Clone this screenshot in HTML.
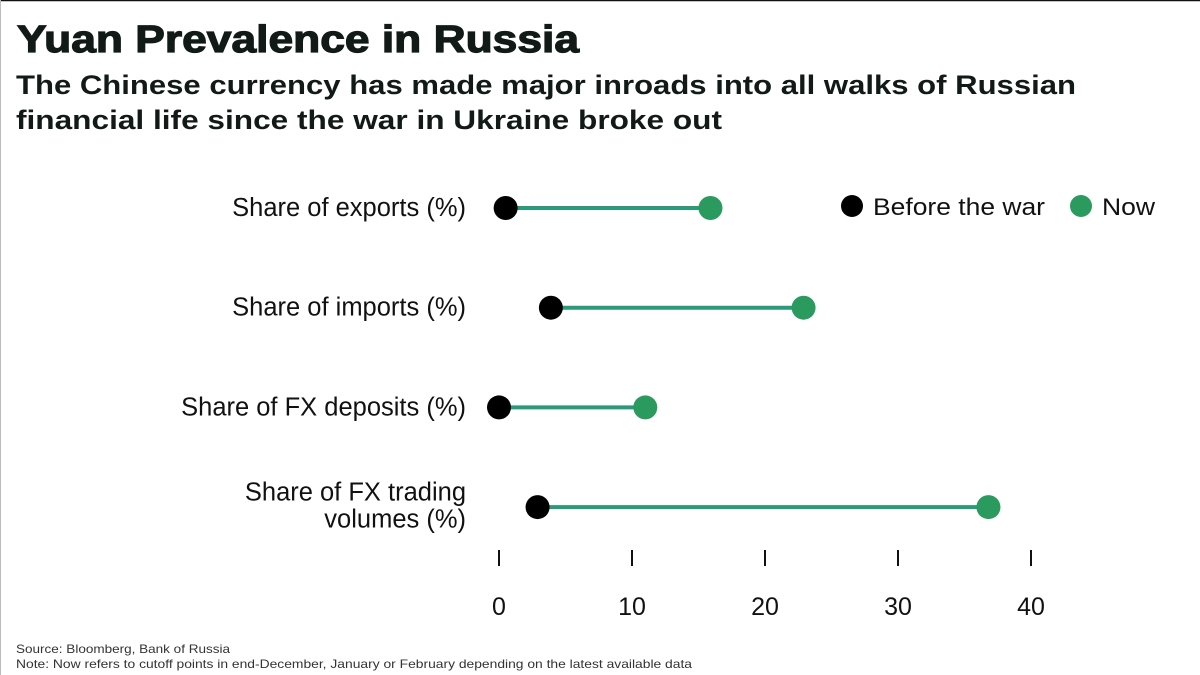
<!DOCTYPE html>
<html><head><meta charset="utf-8"><style>
html,body{margin:0;padding:0;background:#fff;}
svg{display:block;font-family:"Liberation Sans",sans-serif;}
</style></head><body>
<svg width="1200" height="675" viewBox="0 0 1200 675">
<rect x="0" y="0" width="1200" height="675" fill="#fff"/>
<line x1="0" y1="0.5" x2="1200" y2="0.5" stroke="#111" stroke-width="1.5"/>
<line x1="0.5" y1="0" x2="0.5" y2="675" stroke="#bbb" stroke-width="1"/>
<text x="17" y="52" font-size="38" font-weight="900" fill="#111a17" stroke="#111a17" stroke-width="1.2" textLength="562" lengthAdjust="spacingAndGlyphs">Yuan Prevalence in Russia</text>
<text x="16" y="94" font-size="27" font-weight="bold" fill="#111a17" textLength="1060" lengthAdjust="spacingAndGlyphs">The Chinese currency has made major inroads into all walks of Russian</text>
<text x="16" y="129" font-size="27" font-weight="bold" fill="#111a17" textLength="706" lengthAdjust="spacingAndGlyphs">financial life since the war in Ukraine broke out</text>
<g id="legend">
<circle cx="852" cy="206" r="11" fill="#000"/>
<text x="873" y="215" font-size="24" fill="#111" textLength="172" lengthAdjust="spacingAndGlyphs">Before the war</text>
<circle cx="1081" cy="206" r="11" fill="#2a9a5f"/>
<text x="1102" y="215" font-size="24" fill="#111" textLength="53" lengthAdjust="spacingAndGlyphs">Now</text>
</g>
<g id="plot"></g>
<text x="16" y="653" font-size="12" fill="#333" textLength="214" lengthAdjust="spacingAndGlyphs">Source: Bloomberg, Bank of Russia</text>
<text x="16" y="668" font-size="12" fill="#333" textLength="676" lengthAdjust="spacingAndGlyphs">Note: Now refers to cutoff points in end-December, January or February depending on the latest available data</text>
</svg>
<script>
const categories = [["Share of exports (%)"],["Share of imports (%)"],["Share of FX deposits (%)"],["Share of FX trading","volumes (%)"]];
const beforeWar = [0.5, 3.9, 0, 2.9];
const now = [15.9, 22.9, 11, 36.8];
const ticks = [0, 10, 20, 30, 40];
const NS = "http://www.w3.org/2000/svg";
const g = document.getElementById("plot");
const x = v => 499 + v * 13.3;
const y = i => 208 + i * 99.7;
function mk(tag, attrs, parent) {
  const e = document.createElementNS(NS, tag);
  for (const k in attrs) e.setAttribute(k, attrs[k]);
  (parent || g).appendChild(e);
  return e;
}
categories.forEach((lab, i) => {
  const cy = y(i);
  const ln = mk("line", {x1: x(beforeWar[i]), x2: x(now[i]), y1: cy, y2: cy, stroke: "#2a9a78", "stroke-width": 4});
  
  
  const c1 = mk("circle", {cx: x(beforeWar[i]), cy: cy, r: 12, fill: "#000"});
  
  
  const c2 = mk("circle", {cx: x(now[i]), cy: cy, r: 12, fill: "#2a9a5f"});
  
  
  const t = mk("text", {x: 466, "text-anchor": "end", "font-size": 25.5, fill: "#111"});
  
  
  lab.forEach((s, j) => {
    const sp = mk("tspan", {x: 466, y: cy + 8 + (lab.length > 1 ? (j - 0.5) * 27 - 1 : 0)}, t);
    sp.textContent = s;
  });
});
ticks.forEach(v => {
  const tk = mk("line", {x1: x(v), x2: x(v), y1: 550, y2: 566, stroke: "#111", "stroke-width": 2});
  
  
  const tl = mk("text", {x: x(v), y: 615, "text-anchor": "middle", "font-size": 25, fill: "#111"});
  
  
  tl.textContent = v;
});
</script>
</body></html>
